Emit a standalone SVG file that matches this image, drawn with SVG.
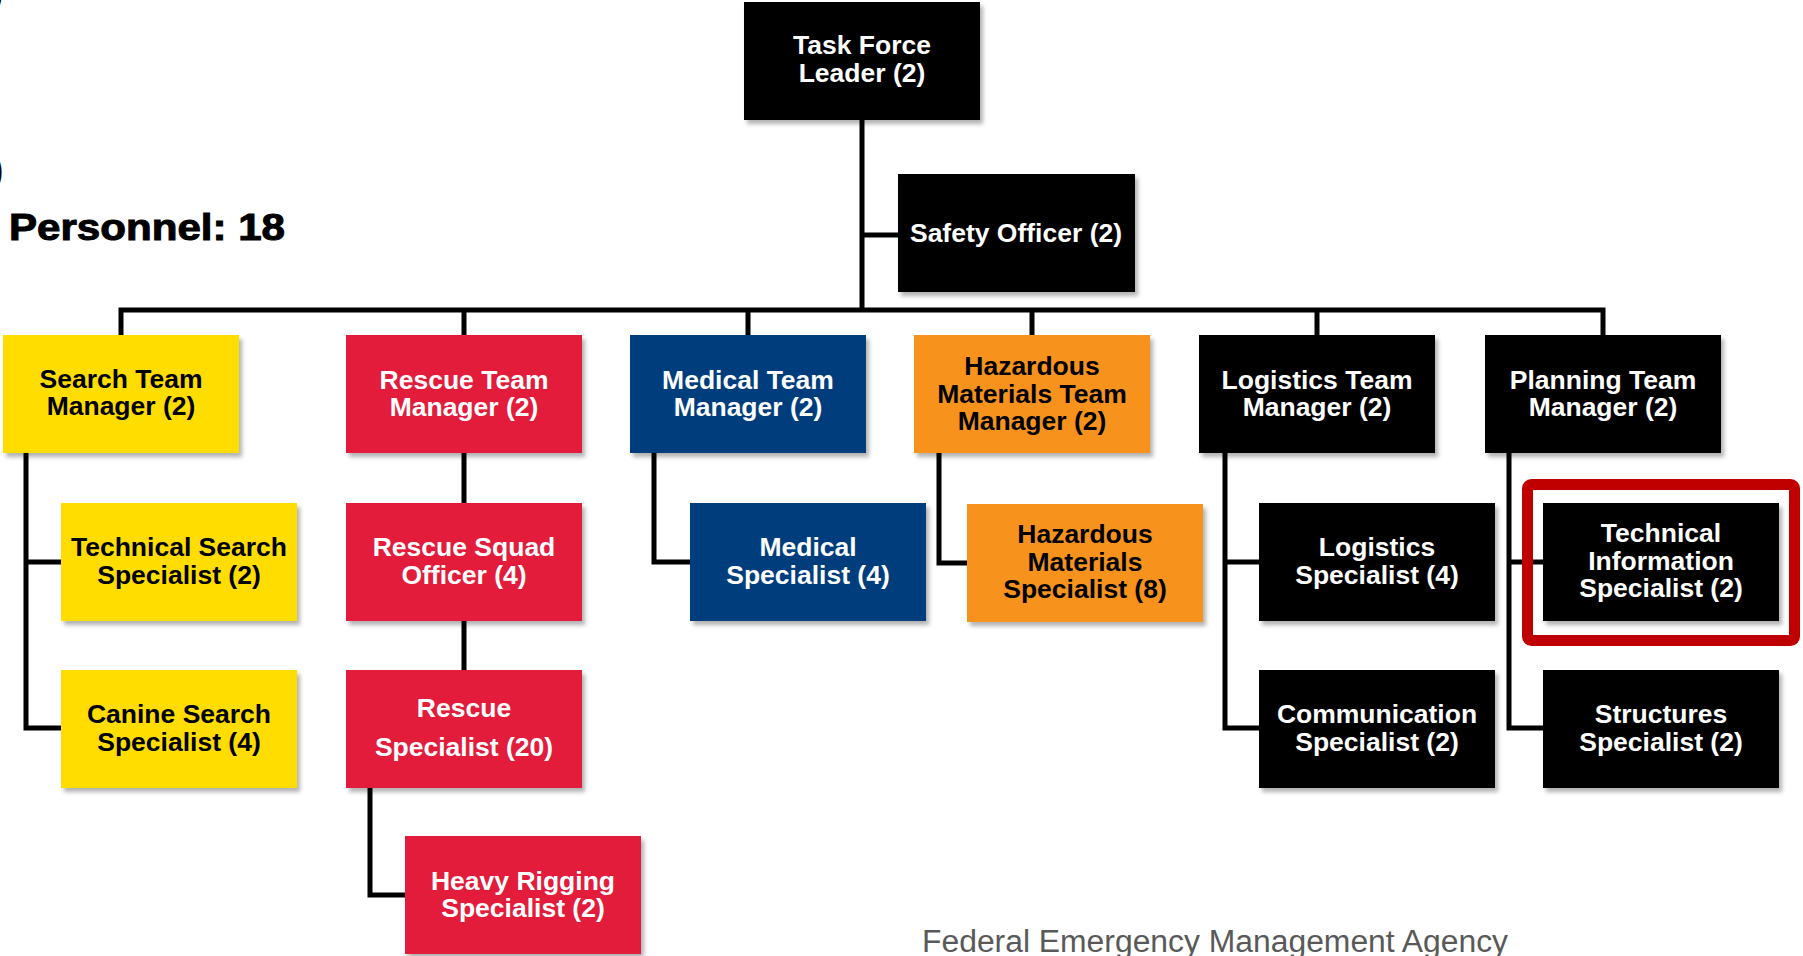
<svg xmlns="http://www.w3.org/2000/svg" width="1803" height="956" viewBox="0 0 1803 956">
<defs>
<filter id="sh" x="-5%" y="-5%" width="115%" height="125%">
<feDropShadow dx="3" dy="4" stdDeviation="2" flood-color="#000" flood-opacity="0.3"/>
</filter>
<style>
.b{filter:url(#sh)}
.k{fill:#000}
.y{fill:#FFDD00}
.r{fill:#E31B3A}
.u{fill:#003D7C}
.o{fill:#F7921E}
text{font-family:"Liberation Sans",Arial,sans-serif;font-weight:bold;font-size:26.5px;text-anchor:middle}
.w{fill:#fff}
.d{fill:#000}
.c{fill:none;stroke:#000;stroke-width:5;stroke-linejoin:miter;stroke-linecap:butt}
</style>
</defs>
<rect width="1803" height="956" fill="#fff"/>
<text x="-9" y="4" style="font-size:37px;text-anchor:start" class="d">)</text>
<text x="-9" y="182" style="font-size:37px;text-anchor:start" class="d">)</text>
<text x="9" y="240" textLength="276" lengthAdjust="spacingAndGlyphs" style="font-size:37px;text-anchor:start;stroke:#000;stroke-width:1" class="d">Personnel: 18</text>
<text x="922" y="952" textLength="586" lengthAdjust="spacingAndGlyphs" style="font-size:31px;font-weight:normal;text-anchor:start;fill:#595959">Federal Emergency Management Agency</text>
<g id="connectors">
<path class="c" d="M862 120V310M862 235H898M121 335V310H1603V335M464 310V335M748 310V335M1032 310V335M1317 310V335"/>
<path class="c" d="M26 453V728H61M26 562H61"/>
<path class="c" d="M464 453V503M464 621V670M370 788V895H405"/>
<path class="c" d="M654 453V562H690"/>
<path class="c" d="M939 453V563H967"/>
<path class="c" d="M1225 453V728H1259M1225 562H1259"/>
<path class="c" d="M1509 453V728H1543M1509 562H1543"/>
</g>
<g id="tfl"><rect class="b k" x="744" y="2" width="236" height="118"/><text class="w" x="862" y="54">Task Force</text><text class="w" x="862" y="82">Leader (2)</text></g>
<g id="safety"><rect class="b k" x="898" y="174" width="237" height="118"/><text class="w" x="1016" y="242">Safety Officer (2)</text></g>
<g id="search"><rect class="b y" x="3" y="335" width="236" height="118"/><text class="d" x="121" y="388">Search Team</text><text class="d" x="121" y="415">Manager (2)</text></g>
<g id="rescue"><rect class="b r" x="346" y="335" width="236" height="118"/><text class="w" x="464" y="389">Rescue Team</text><text class="w" x="464" y="416">Manager (2)</text></g>
<g id="medical"><rect class="b u" x="630" y="335" width="236" height="118"/><text class="w" x="748" y="389">Medical Team</text><text class="w" x="748" y="416">Manager (2)</text></g>
<g id="hazmat"><rect class="b o" x="914" y="335" width="236" height="118"/><text class="d" x="1032" y="375">Hazardous</text><text class="d" x="1032" y="403">Materials Team</text><text class="d" x="1032" y="430">Manager (2)</text></g>
<g id="logistics"><rect class="b k" x="1199" y="335" width="236" height="118"/><text class="w" x="1317" y="389">Logistics Team</text><text class="w" x="1317" y="416">Manager (2)</text></g>
<g id="planning"><rect class="b k" x="1485" y="335" width="236" height="118"/><text class="w" x="1603" y="389">Planning Team</text><text class="w" x="1603" y="416">Manager (2)</text></g>
<g id="techsearch"><rect class="b y" x="61" y="503" width="236" height="118"/><text class="d" x="179" y="556">Technical Search</text><text class="d" x="179" y="584">Specialist (2)</text></g>
<g id="canine"><rect class="b y" x="61" y="670" width="236" height="118"/><text class="d" x="179" y="723">Canine Search</text><text class="d" x="179" y="751">Specialist (4)</text></g>
<g id="squad"><rect class="b r" x="346" y="503" width="236" height="118"/><text class="w" x="464" y="556">Rescue Squad</text><text class="w" x="464" y="584">Officer (4)</text></g>
<g id="rescuespec"><rect class="b r" x="346" y="670" width="236" height="118"/><text class="w" x="464" y="717">Rescue</text><text class="w" x="464" y="756">Specialist (20)</text></g>
<g id="heavy"><rect class="b r" x="405" y="836" width="236" height="118"/><text class="w" x="523" y="890">Heavy Rigging</text><text class="w" x="523" y="917">Specialist (2)</text></g>
<g id="medspec"><rect class="b u" x="690" y="503" width="236" height="118"/><text class="w" x="808" y="556">Medical</text><text class="w" x="808" y="584">Specialist (4)</text></g>
<g id="hazspec"><rect class="b o" x="967" y="504" width="236" height="118"/><text class="d" x="1085" y="543">Hazardous</text><text class="d" x="1085" y="571">Materials</text><text class="d" x="1085" y="598">Specialist (8)</text></g>
<g id="logspec"><rect class="b k" x="1259" y="503" width="236" height="118"/><text class="w" x="1377" y="556">Logistics</text><text class="w" x="1377" y="584">Specialist (4)</text></g>
<g id="comm"><rect class="b k" x="1259" y="670" width="236" height="118"/><text class="w" x="1377" y="723">Communication</text><text class="w" x="1377" y="751">Specialist (2)</text></g>
<g id="tis"><rect class="b k" x="1543" y="503" width="236" height="118"/><text class="w" x="1661" y="542">Technical</text><text class="w" x="1661" y="570">Information</text><text class="w" x="1661" y="597">Specialist (2)</text></g>
<g id="structures"><rect class="b k" x="1543" y="670" width="236" height="118"/><text class="w" x="1661" y="723">Structures</text><text class="w" x="1661" y="751">Specialist (2)</text></g>
<g id="highlight"><rect x="1527.5" y="484.5" width="267" height="156" rx="4" fill="none" stroke="#C00000" stroke-width="11"/></g>
</svg>
